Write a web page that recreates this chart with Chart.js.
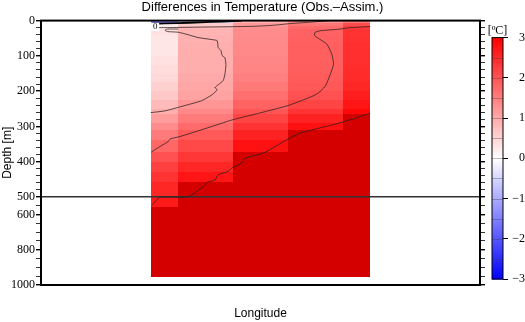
<!DOCTYPE html>
<html>
<head>
<meta charset="utf-8">
<script src="https://cdn.jsdelivr.net/npm/chart.js@4.4.0/dist/chart.umd.min.js"></script>
<style>
  html, body { margin: 0; padding: 0; background: #fff; }
  canvas { display: block; }
</style>
</head>
<body>
<canvas id="diffChart" width="525" height="322"></canvas>
<script>
// cell edges: longitude (arbitrary units, no tick labels) and depth in metres
var lonEdges = [1, 1.5, 2.5, 3.5, 4.5, 5];
var depthEdges = [0, 8, 14, 25, 40, 60, 80, 100, 125, 150, 175, 200, 225, 250, 264, 290, 310, 340, 372, 400, 430, 457, 500, 557, 650, 800, 955];

// temperature difference (degC) per column, one value per depth cell
var col1 = [-1.3, 0.15, 0.25, 0.35, 0.3, 0.3, 0.3, 0.35, 0.4, 0.45, 0.55, 0.65, 0.8, 0.95, 1.15, 1.35, 1.55, 1.8, 2.05, 2.25, 2.4, 2.55, 2.7, 3.5, 3.5, 3.5];
var col2 = [-0.6, 0.6, 0.8, 0.9, 0.92, 0.95, 0.95, 0.95, 0.95, 1.0, 1.05, 1.1, 1.25, 1.4, 1.55, 1.75, 1.95, 2.15, 2.35, 2.55, 2.75, 3.5, 3.5, 3.5, 3.5, 3.5];
var col3 = [0.9, 1.2, 1.3, 1.35, 1.38, 1.4, 1.4, 1.42, 1.45, 1.5, 1.58, 1.7, 1.85, 2.0, 2.2, 2.4, 2.6, 2.8, 3.5, 3.5, 3.5, 3.5, 3.5, 3.5, 3.5, 3.5];
var col4 = [1.3, 1.6, 1.75, 1.85, 1.87, 1.88, 1.88, 1.88, 1.9, 1.93, 1.97, 2.05, 2.2, 2.4, 2.6, 2.8, 3.5, 3.5, 3.5, 3.5, 3.5, 3.5, 3.5, 3.5, 3.5, 3.5];
var col5 = [1.6, 2.1, 2.3, 2.4, 2.42, 2.45, 2.45, 2.45, 2.48, 2.5, 2.55, 2.65, 2.75, 2.9, 3.5, 3.5, 3.5, 3.5, 3.5, 3.5, 3.5, 3.5, 3.5, 3.5, 3.5, 3.5];
var cellValues = [col1, col2, col3, col4, col5];

// contour lines as [lon, depth]
var contourZero = [[1.02, 9], [1.5, 7], [1.9, 5], [2.3, 2.5], [2.66, 0]];
var contourTop = [[1.11, 20], [1.5, 19.5], [1.9, 18.5], [2.4, 17.5], [2.9, 16], [3.25, 13], [3.54, 8.5], [3.85, 5], [4.12, 2], [4.27, 0]];
var contourOne = [[1.5, 24], [1.3, 24], [1.26, 27], [1.3, 31], [1.5, 33], [1.68, 40], [1.86, 48], [2.12, 54], [2.21, 57], [2.23, 77], [2.28, 85], [2.3, 99], [2.35, 105], [2.37, 125], [2.35, 153], [2.32, 170], [2.23, 182], [2.17, 190], [2.21, 196], [2.12, 210], [1.93, 227], [1.62, 241], [1.26, 256], [1.0, 261]];
var contourTwo = [[1.01, 373], [1.17, 357], [1.32, 343], [1.35, 336], [1.53, 329], [2.02, 305], [2.5, 281], [2.99, 262], [3.54, 239], [4.02, 209], [4.18, 186], [4.27, 153], [4.33, 124], [4.3, 96], [4.21, 67], [4.08, 53], [3.99, 43], [3.99, 34], [4.08, 29], [4.39, 25], [4.63, 20], [5.0, 17]];
var contourThree = [[1.02, 548], [1.17, 502], [1.68, 500], [1.96, 470], [2.02, 459], [2.17, 452], [2.23, 437], [2.41, 428], [2.48, 418], [2.66, 404], [2.72, 390], [3.05, 376], [3.48, 338], [3.72, 319], [4.33, 295], [4.54, 286], [5.0, 263]];
var contourLabel = { lon: 1.08, depth: 18, text: '0' };

var breakDepth = 500;
var majorDepths = [0, 100, 200, 300, 400, 500, 600, 800, 1000];
var colorbarTicks = [-3, -2, -1, 0, 1, 2, 3];

// depth axis is stretched above 500 m and compressed below
function depthToAxis(d) { return d <= breakDepth ? d : breakDepth + (d - breakDepth) / 2; }
function axisToDepth(v) { return v <= breakDepth ? v : breakDepth + (v - breakDepth) * 2; }

var depthTicks = [];
for (var d = 0; d < 500; d += 20) depthTicks.push(d);
for (var d = 500; d <= 1000; d += 50) depthTicks.push(d);

function tempColor(v) {
    if (v > 3) return 'rgb(212,0,0)';
    if (v < -3) return 'rgb(0,0,160)';
    var t;
    if (v >= 0) {
        t = Math.round(255 * (1 - v / 3));
        return 'rgb(255,' + t + ',' + t + ')';
    }
    t = Math.round(255 * (1 + v / 3));
    return 'rgb(' + t + ',' + t + ',255)';
}

function toPoints(arr) {
    return arr.map(function(p) { return { x: p[0], y: depthToAxis(p[1]) }; });
}

function isMajor(v) {
    return majorDepths.indexOf(Math.round(axisToDepth(v))) >= 0;
}

var heatmapPlugin = {
    id: 'heatmap',
    beforeDatasetsDraw: function(chart) {
        var ctx = chart.ctx, xs = chart.scales.x, ys = chart.scales.y, a = chart.chartArea;
        ctx.save();
        ctx.beginPath();
        ctx.rect(a.left, a.top, a.right - a.left, a.bottom - a.top);
        ctx.clip();
        for (var i = 0; i < cellValues.length; i++) {
            var x0 = Math.round(xs.getPixelForValue(lonEdges[i]));
            var x1 = Math.round(xs.getPixelForValue(lonEdges[i + 1]));
            for (var j = 0; j < cellValues[i].length; j++) {
                var y0 = Math.round(ys.getPixelForValue(depthToAxis(depthEdges[j])));
                var y1 = Math.round(ys.getPixelForValue(depthToAxis(depthEdges[j + 1])));
                ctx.fillStyle = tempColor(cellValues[i][j]);
                ctx.fillRect(x0, y0, x1 - x0, y1 - y0);
            }
        }
        ctx.restore();
    },
    afterDatasetsDraw: function(chart) {
        var ctx = chart.ctx, xs = chart.scales.x, ys = chart.scales.y, a = chart.chartArea;
        // contour label
        var lx = xs.getPixelForValue(contourLabel.lon);
        var ly = ys.getPixelForValue(depthToAxis(contourLabel.depth));
        ctx.save();
        ctx.font = '9px "Liberation Serif"';
        ctx.fillStyle = '#fff';
        ctx.fillRect(lx - 4, ly - 4, 8, 8);
        ctx.fillStyle = '#000';
        ctx.textAlign = 'center';
        ctx.textBaseline = 'middle';
        ctx.fillText(contourLabel.text, lx, ly);
        // frame
        ctx.strokeStyle = '#000';
        ctx.lineWidth = 2;
        ctx.strokeRect(a.left, a.top, a.right - a.left, a.bottom - a.top);
        ctx.restore();
    }
};

var colorbarPlugin = {
    id: 'colorbar',
    afterLayout: function(chart) {
        var cb = chart.scales.cb, a = chart.chartArea;
        cb.top = a.top + 17;
        cb.bottom = a.bottom - 6;
        cb.height = cb.bottom - cb.top;
        cb.configure();
        cb._gridLineItems = null;
        cb._labelItems = null;
    },
    afterDraw: function(chart) {
        var ctx = chart.ctx, cb = chart.scales.cb;
        var x1 = cb.left, x0 = x1 - 11;
        ctx.save();
        var steps = 120;
        for (var k = 0; k < steps; k++) {
            var v0 = cb.min + (cb.max - cb.min) * k / steps;
            var v1 = cb.min + (cb.max - cb.min) * (k + 1) / steps;
            var ya = cb.getPixelForValue(v0), yb = cb.getPixelForValue(v1);
            ctx.fillStyle = tempColor((v0 + v1) / 2);
            ctx.fillRect(x0, yb, x1 - x0, ya - yb + 0.6);
        }
        ctx.strokeStyle = 'rgba(60,60,60,0.35)';
        ctx.lineWidth = 1;
        for (var v = -2.5; v < 3; v += 0.5) {
            var y = Math.round(cb.getPixelForValue(v)) + 0.5;
            ctx.beginPath();
            ctx.moveTo(x0, y);
            ctx.lineTo(x1, y);
            ctx.stroke();
        }
        ctx.strokeStyle = '#000';
        ctx.lineWidth = 1;
        ctx.strokeRect(x0, cb.top, x1 - x0, cb.bottom - cb.top);
        ctx.fillStyle = '#000';
        ctx.font = '12px "Liberation Serif"';
        ctx.textAlign = 'center';
        ctx.textBaseline = 'bottom';
        ctx.fillText('[\u00baC]', (x0 + x1) / 2, cb.top - 1);
        ctx.restore();
    }
};

var depthAxisTicks = function(axis) {
    axis.ticks = depthTicks.map(function(dd) { return { value: depthToAxis(dd) }; });
};

var ctx1 = document.getElementById('diffChart').getContext('2d');
var diffChart = new Chart(ctx1, {
    type: 'scatter',
    data: {
        datasets: [
            {
                label: 'contour 0',
                data: toPoints(contourZero),
                showLine: true, pointRadius: 0,
                borderColor: '#000', borderWidth: 1.8, tension: 0.2
            },
            {
                label: 'contour top',
                data: toPoints(contourTop),
                showLine: true, pointRadius: 0,
                borderColor: 'rgba(40,30,30,0.85)', borderWidth: 0.9, tension: 0.2
            },
            {
                label: 'contour 1',
                data: toPoints(contourOne),
                showLine: true, pointRadius: 0,
                borderColor: 'rgba(40,30,30,0.85)', borderWidth: 0.9, tension: 0.2
            },
            {
                label: 'contour 2',
                data: toPoints(contourTwo),
                showLine: true, pointRadius: 0,
                borderColor: 'rgba(40,30,30,0.85)', borderWidth: 0.9, tension: 0.2
            },
            {
                label: 'contour 3',
                data: toPoints(contourThree),
                showLine: true, pointRadius: 0,
                borderColor: 'rgba(40,30,30,0.85)', borderWidth: 0.9, tension: 0.2
            },
            {
                label: '500 m',
                data: [{ x: -1, y: depthToAxis(breakDepth) }, { x: 7, y: depthToAxis(breakDepth) }],
                showLine: true, pointRadius: 0,
                borderColor: '#333', borderWidth: 1.5
            }
        ]
    },
    options: {
        responsive: false,
        animation: false,
        layout: { padding: 0 },
        plugins: {
            legend: { display: false },
            tooltip: { enabled: false },
            title: {
                display: true,
                text: 'Differences in Temperature (Obs.\u2013Assim.)',
                color: '#000',
                font: { family: 'Liberation Sans', size: 13, weight: 'normal' },
                padding: { top: 0, bottom: 5 }
            }
        },
        scales: {
            x: {
                type: 'linear',
                position: 'bottom',
                min: -1,
                max: 7,
                ticks: { display: false },
                grid: { drawOnChartArea: false, drawTicks: false },
                border: { color: '#000', width: 2 },
                title: {
                    display: true,
                    text: 'Longitude',
                    color: '#000',
                    font: { family: 'Liberation Sans', size: 12 },
                    padding: { top: 0, bottom: 1 }
                },
                afterFit: function(axis) { axis.height = 37; }
            },
            y: {
                type: 'linear',
                axis: 'y',
                position: 'left',
                min: 0,
                max: 750,
                reverse: true,
                afterBuildTicks: depthAxisTicks,
                ticks: {
                    autoSkip: false,
                    padding: 1,
                    color: '#000',
                    font: { family: 'Liberation Serif', size: 12 },
                    callback: function(v) { return isMajor(v) ? String(Math.round(axisToDepth(v))) : ''; }
                },
                grid: {
                    drawOnChartArea: false,
                    tickLength: 5,
                    color: '#000',
                    lineWidth: function(c) { return c.tick && isMajor(c.tick.value) ? 1.4 : 0.8; }
                },
                border: { color: '#000', width: 2 },
                title: {
                    display: true,
                    text: 'Depth [m]',
                    color: '#000',
                    font: { family: 'Liberation Sans', size: 12 },
                    padding: 0
                },
                afterFit: function(axis) { axis.width = 41; }
            },
            y2: {
                type: 'linear',
                axis: 'y',
                position: 'right',
                weight: 0,
                min: 0,
                max: 750,
                reverse: true,
                afterBuildTicks: depthAxisTicks,
                ticks: { display: false },
                grid: {
                    drawOnChartArea: false,
                    tickLength: 5,
                    color: '#000',
                    lineWidth: function(c) { return c.tick && isMajor(c.tick.value) ? 1.4 : 0.8; }
                },
                border: { color: '#000', width: 2 },
                afterFit: function(axis) { axis.width = 23; }
            },
            cb: {
                type: 'linear',
                axis: 'y',
                position: 'right',
                weight: 1,
                min: -3,
                max: 3,
                afterBuildTicks: function(axis) {
                    axis.ticks = colorbarTicks.map(function(v) { return { value: v }; });
                },
                ticks: {
                    autoSkip: false,
                    crossAlign: 'far',
                    padding: 2,
                    color: '#000',
                    font: { family: 'Liberation Serif', size: 12 },
                    callback: function(v) { return v < 0 ? '\u2212' + Math.abs(v) : String(v); }
                },
                grid: { drawOnChartArea: false, tickLength: 5, color: '#000' },
                border: { display: false },
                afterFit: function(axis) { axis.width = 22; }
            }
        }
    },
    plugins: [heatmapPlugin, colorbarPlugin]
});
</script>
</body>
</html>
